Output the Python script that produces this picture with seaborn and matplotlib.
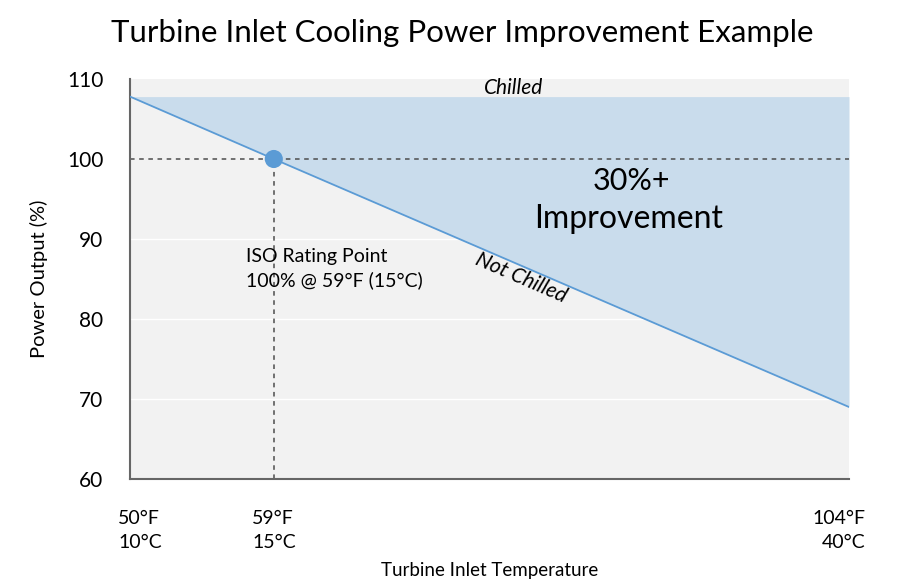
import matplotlib
matplotlib.use("Agg")
import matplotlib.pyplot as plt
import matplotlib.transforms as mtransforms
import seaborn as sns
import pandas as pd

# Data
x_pos = [0, 1, 5]                      # category positions along the axis
x_labels = ["50°F\n10°C", "59°F\n15°C", "104°F\n40°C"]
power_not_chilled = [107.8, 100.0, 69.0]
chilled_level = 107.8
iso_x = 1
iso_power = 100.0
y_ticks = [60, 70, 80, 90, 100, 110]

sns.set_theme(style="white")
plt.rcParams['font.family'] = ['Lato', 'DejaVu Sans']
plt.rcParams['text.color'] = 'black'
plt.rcParams['axes.labelcolor'] = 'black'

fig = plt.figure(figsize=(8.99, 5.83), dpi=100)
ax = fig.add_axes([130/899, 1-479/583, (849-130)/899, (479-79)/583])
ax.set_facecolor("#f2f2f2")

df = pd.DataFrame({"x": x_pos, "power": power_not_chilled})

ax.fill_between(df["x"], df["power"], chilled_level, color="#c9dcec", zorder=1, linewidth=0)
for yv in [70, 80, 90]:
    ax.axhline(yv, color="white", lw=1, zorder=0.5)
sns.lineplot(data=df, x="x", y="power", ax=ax, color="#5b9bd5", lw=1.3, zorder=3)

ax.plot([0, 5], [iso_power, iso_power], ls=(0, (3, 3)), color="#4d4d4d", lw=1.1, zorder=2)
ax.plot([iso_x, iso_x], [60, iso_power], ls=(0, (3, 3)), color="#4d4d4d", lw=1.1, zorder=2)
sns.scatterplot(x=[iso_x], y=[iso_power], ax=ax, s=170, color="#5b9bd5", edgecolor="none", zorder=4)

ax.set_xlim(0, 5)
ax.set_ylim(60, 110)
ax.set_yticks(y_ticks)
ax.set_yticklabels([str(v) for v in y_ticks], fontsize=15)
ax.set_xticks(x_pos)
ax.set_xticklabels(x_labels, fontsize=14, linespacing=1.55)
tl = ax.get_xticklabels()
tl[0].set_ha("left")
tl[2].set_ha("right")
tl[1].set_multialignment("left")
tl[0].set_multialignment("left")
tl[2].set_multialignment("right")
ax.tick_params(axis="y", length=0, pad=19, colors="black")
ax.tick_params(axis="x", length=0, pad=22, colors="black")

off0 = mtransforms.ScaledTranslation(-12/100, 0, fig.dpi_scale_trans)
off2 = mtransforms.ScaledTranslation(16/100, 0, fig.dpi_scale_trans)
tl[0].set_transform(tl[0].get_transform() + off0)
tl[2].set_transform(tl[2].get_transform() + off2)

for s in ["top", "right"]:
    ax.spines[s].set_visible(False)
for s in ["left", "bottom"]:
    ax.spines[s].set_color("#666666")
    ax.spines[s].set_linewidth(1.5)

ax.set_xlabel("Turbine Inlet Temperature", fontsize=13.5, labelpad=8)
ax.set_ylabel("Power Output (%)", fontsize=14.5, labelpad=14)
fig.suptitle("Turbine Inlet Cooling Power Improvement Example", fontsize=22.5, x=0.514, y=0.968)

ax.text(2.67, 108.9, "Chilled", fontsize=15, style="italic", ha="center", va="center")
ax.text(3.49, 97.2, "30%+", fontsize=22, ha="center", va="center")
ax.text(3.47, 92.5, "Improvement", fontsize=23, ha="center", va="center")
ax.text(0.81, 86.3, "ISO Rating Point\n100% @ 59°F (15°C)", fontsize=14, ha="left", va="center", linespacing=1.4)
ax.text(2.72, 85.1, "Not Chilled", fontsize=15, style="italic", ha="center", va="center", rotation=-23.5)

fig.savefig("out.png", dpi=100)
